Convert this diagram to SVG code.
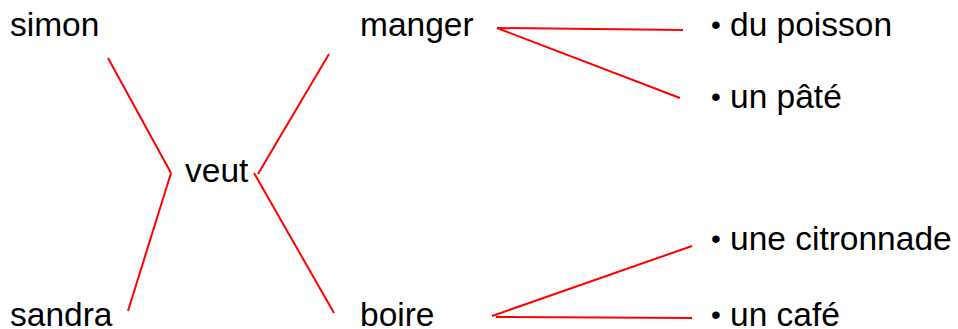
<svg xmlns="http://www.w3.org/2000/svg" width="958" height="329" viewBox="0 0 958 329">
<style>
text{font-family:"Liberation Sans",Arial,sans-serif;font-size:33.5px;fill:#000}
.b{font-size:28px}
.c line{stroke:#ff0000;stroke-width:2;fill:none}
</style>
<rect width="958" height="329" fill="#fff"/>
<g class="c" id="connectors">
<line x1="108" y1="58" x2="171" y2="173"/>
<line x1="171" y1="173" x2="128" y2="311"/>
<line x1="258" y1="174" x2="329" y2="54"/>
<line x1="254" y1="173" x2="334" y2="313"/>
<line x1="497" y1="28" x2="683" y2="30"/>
<line x1="497" y1="28" x2="680" y2="98"/>
<line x1="492" y1="316" x2="692" y2="246"/>
<line x1="496" y1="317" x2="692" y2="318"/>
</g>
<g id="simon"><text x="10" y="36">simon</text></g>
<g id="sandra"><text x="10" y="326">sandra</text></g>
<g id="veut"><text x="185" y="182">veut</text></g>
<g id="manger"><text x="360" y="36">manger</text></g>
<g id="boire"><text x="360" y="326">boire</text></g>
<g id="poisson"><text x="711" y="36"><tspan class="b" dy="-2">•</tspan><tspan x="730" dy="2">du poisson</tspan></text></g>
<g id="pate"><text x="711" y="108"><tspan class="b" dy="-2">•</tspan><tspan x="730" dy="2">un pâté</tspan></text></g>
<g id="citronnade"><text x="711" y="250"><tspan class="b" dy="-2">•</tspan><tspan x="730" dy="2">une citronnade</tspan></text></g>
<g id="cafe"><text x="711" y="326"><tspan class="b" dy="-2">•</tspan><tspan x="730" dy="2">un café</tspan></text></g>
</svg>
